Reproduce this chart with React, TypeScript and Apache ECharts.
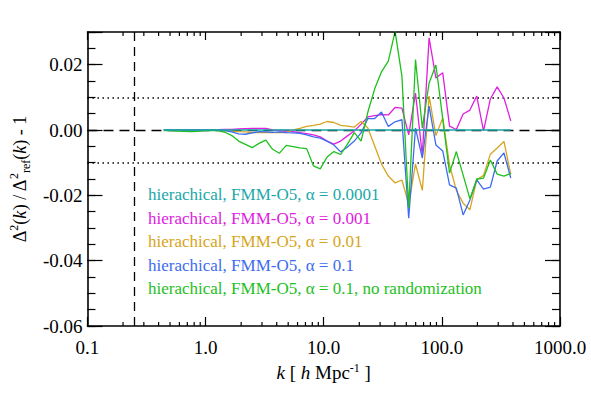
import React, { useEffect, useRef } from "react";
import * as echarts from "echarts";

const SERIF = "'Liberation Serif', 'Times New Roman', serif";

// wavenumbers k [h/Mpc]
const kValues = [
  0.4426, 0.5053, 0.577, 0.6588, 0.7522, 0.8588, 0.9806, 1.12, 1.279, 1.46,
  1.667, 1.903, 2.173, 2.481, 2.833, 3.235, 3.693, 4.217, 4.815, 5.498,
  6.278, 7.168, 8.185, 9.345, 10.67, 12.18, 13.91, 15.88, 18.14, 20.71,
  23.64, 27.0, 30.83, 35.2, 40.19, 45.89, 52.39, 59.82, 68.31, 77.99,
  89.05, 101.7, 116.1, 132.6, 151.4, 172.8, 197.3, 225.3, 257.3, 293.8,
  335.4, 382.9,
];

const alpha00001 = [
  0, 0, 0, 0, 0, 0, 0, 0, 0, 0,
  0, 0, 0, 0, 0, 0, 0, 0, 0, 0,
  0, 0, 0, 0, 0, 0, 0, 0, 0, 0,
  0, 0, 0, 0, 0, 0, 0, 0, 0, 0,
  0, 0, 0, 0, 0, 0, 0, 0, 0, 0,
  0, 0,
];

const alpha0001 = [
  0, 0, 0, 0, 0, 0, 0, 0, 0.0001, 0.00015,
  0.0002, 0.0003, 0.0004, 0.0005, 0.0005, 0.0005, 0.0, -0.00015, -0.0003, -0.0005,
  -0.0008, -0.0011, -0.0015, -0.0021, -0.0034, -0.0043, -0.0034, -0.0018, -0.0003, 0.0018,
  0.004, 0.0044, 0.0047, 0.0046, 0.0069, 0.0067, -0.0015, 0.0113, -0.0077, 0.0282,
  0.0159, 0.0175, 0.0012, 0.00015, 0.0049, 0.0061, 0.0104, -0.0003, 0.0095, 0.0132,
  0.0098, 0.0028,
];

const alpha001 = [
  0, 0, 0, 0, 0, 0, 0, 0, -0.0001, -0.00015,
  -0.0003, -0.0005, -0.0006, -0.0008, -0.0008, -0.0008, -0.0008, -0.0008, -0.0008, 0.0,
  0.0005, 0.0011, 0.0014, 0.0018, 0.0026, 0.0023, 0.0014, 0.0012, 0.0009, 0.0026,
  0.0006, -0.0049, -0.0104, -0.0141, -0.0162, -0.0153, -0.0227, -0.0104, -0.0185, 0.0104,
  -0.0017, 0.0037, -0.0107, -0.0185, -0.0224, -0.0244, -0.0153, -0.0139, -0.0074, -0.0055,
  -0.0035, -0.0136,
];

const alpha01 = [
  0, 0, 0, 0, 0, 0, 0, 0, 0, -0.00015,
  -0.0006, -0.0012, -0.0013, -0.0009, -0.0005, -0.0006, -0.0007, -0.0006, -0.0008, -0.0009,
  -0.001, -0.0015, -0.0021, -0.0025, -0.0034, -0.0046, -0.0067, -0.0052, -0.0034, -0.0009,
  0.0035, 0.0035, 0.0055, 0.0011, 0.0025, 0.0032, -0.027, 0.0006, -0.0086, 0.0073,
  -0.0046, -0.0064, -0.0168, -0.0178, -0.026, -0.0214, -0.0153, -0.0181, -0.0175, -0.0095,
  -0.007, -0.0147,
];

const alpha01NoRand = [
  -0.00015, -0.0002, -0.0003, -0.0004, -0.0005, -0.0004, -0.0002, -0.0001, -0.0002, -0.0007,
  -0.0017, -0.0034, -0.0044, -0.0054, -0.0041, -0.0031, -0.0059, -0.0071, -0.0047, -0.0051,
  -0.0055, -0.0057, -0.011, -0.0119, -0.0083, -0.0066, -0.0075, -0.0043, -0.0008, -0.0034,
  0.0055, 0.0126, 0.0178, 0.0211, 0.0302, 0.0165, -0.0239, 0.0216, 0.0006, 0.0144,
  0.0199, 0.0034, -0.0132, -0.0066, -0.0138, -0.0211, -0.015, -0.0147, -0.0092, -0.0135,
  -0.0141, -0.0133,
];

const seriesNames = [
  "hierachical, FMM-O5, \u03b1 = 0.0001",
  "hierachical, FMM-O5, \u03b1 = 0.001",
  "hierachical, FMM-O5, \u03b1 = 0.01",
  "hierachical, FMM-O5, \u03b1 = 0.1",
  "hierachical, FMM-O5, \u03b1 = 0.1, no randomization",
];
const seriesValues = [alpha00001, alpha0001, alpha001, alpha01, alpha01NoRand];
const seriesColors = ["#1aa8a8", "#e020e0", "#d6a520", "#3d6cf2", "#1ec01e"];

const xTickLabels = ["0.1", "1.0", "10.0", "100.0", "1000.0"];
const refK = 0.25;
const toleranceLevels = [0.01, -0.01];

export default function App() {
  const ref = useRef<HTMLDivElement>(null);

  useEffect(() => {
    if (!ref.current) return;
    const chart = echarts.init(ref.current, null, { renderer: "svg" });

    const minorK: number[] = [];
    for (let e = -1; e <= 2; e++) {
      for (let m = 2; m <= 9; m++) minorK.push(m * Math.pow(10, e));
    }

    const axisLineStyle = { color: "#000", width: 1.6 };
    const tickStyle = { color: "#000", width: 1.2 };

    const dataSeries = seriesValues.map((vals, si) => ({
      type: "line",
      name: seriesNames[si],
      data: kValues.map((k, i) => [k, vals[i]]),
      showSymbol: false,
      symbol: "none",
      lineStyle: { color: seriesColors[si], width: 1.3 },
      itemStyle: { color: seriesColors[si] },
      z: si === 0 ? 4 : 3,
      xAxisIndex: 0,
      yAxisIndex: 0,
    }));

    const option: any = {
      animation: false,
      backgroundColor: "#ffffff",
      textStyle: { fontFamily: SERIF },
      grid: { left: 83, right: 31, top: 32, bottom: 67 },
      xAxis: [
        {
          type: "log",
          logBase: 10,
          min: 0.1,
          max: 1000,
          position: "bottom",
          axisLine: { show: true, onZero: false, lineStyle: axisLineStyle },
          axisTick: { show: true, inside: true, length: 9, lineStyle: tickStyle },
          axisLabel: {
            color: "#000",
            fontSize: 19,
            fontFamily: SERIF,
            margin: 12,
            formatter: (v: number) => {
              const idx = Math.round(Math.log10(v)) + 1;
              return xTickLabels[idx] ?? v.toFixed(1);
            },
          },
          splitLine: { show: false },
          name: "{i|k}{t| [ }{i|h}{t| Mpc}{s|-1}{t| ]}",
          nameLocation: "middle",
          nameGap: 29,
          nameTextStyle: {
            color: "#000",
            fontSize: 19,
            fontFamily: SERIF,
            rich: {
              t: { fontSize: 19, fontFamily: SERIF, color: "#000", verticalAlign: "bottom" },
              i: { fontSize: 19, fontFamily: SERIF, fontStyle: "italic", color: "#000", verticalAlign: "bottom" },
              s: { fontSize: 12, fontFamily: SERIF, color: "#000", verticalAlign: "bottom", padding: [0, 0, 8, 0] },
            },
          },
        },
        {
          type: "log",
          logBase: 10,
          min: 0.1,
          max: 1000,
          position: "top",
          axisLine: { show: true, onZero: false, lineStyle: axisLineStyle },
          axisTick: { show: true, inside: true, length: 8, lineStyle: tickStyle },
          axisLabel: { show: false },
          splitLine: { show: false },
        },
      ],
      yAxis: [
        {
          type: "value",
          min: -0.06,
          max: 0.03,
          interval: 0.02,
          position: "left",
          axisLine: { show: true, onZero: false, lineStyle: axisLineStyle },
          axisTick: { show: true, inside: true, length: 15, lineStyle: tickStyle },
          axisLabel: {
            color: "#000",
            fontSize: 19,
            fontFamily: SERIF,
            margin: 5,
            formatter: (v: number) => (v > 0.025 ? "" : Math.abs(v) < 1e-9 ? "0.00" : v.toFixed(2)),
          },
          splitLine: { show: false },
          name:
            "{t|\u0394}{s|2}{t|(}{i|k}{t|) / \u0394}{s|2}{r|ref}{t|(}{i|k}{t|) - 1}",
          nameLocation: "middle",
          nameGap: 55,
          nameTextStyle: {
            color: "#000",
            fontSize: 18,
            fontFamily: SERIF,
            rich: {
              t: { fontSize: 18, fontFamily: SERIF, color: "#000", verticalAlign: "bottom", padding: [0, 0, 3, 0] },
              i: { fontSize: 18, fontFamily: SERIF, fontStyle: "italic", color: "#000", verticalAlign: "bottom", padding: [0, 0, 3, 0] },
              s: { fontSize: 12, fontFamily: SERIF, color: "#000", verticalAlign: "bottom", padding: [0, 0, 12, 0] },
              r: { fontSize: 12, fontFamily: SERIF, color: "#000", verticalAlign: "bottom", padding: [0, 0, 0, 0] },
            },
          },
        },
        {
          type: "value",
          min: -0.06,
          max: 0.03,
          interval: 0.02,
          position: "right",
          axisLine: { show: true, onZero: false, lineStyle: axisLineStyle },
          axisTick: { show: true, inside: true, length: 15, lineStyle: tickStyle },
          axisLabel: { show: false },
          splitLine: { show: false },
        },
        {
          type: "value",
          min: -0.06,
          max: 0.03,
          interval: 0.005,
          position: "left",
          axisLine: { show: false },
          axisTick: { show: true, inside: true, length: 8, lineStyle: tickStyle },
          axisLabel: { show: false },
          splitLine: { show: false },
        },
        {
          type: "value",
          min: -0.06,
          max: 0.03,
          interval: 0.005,
          position: "right",
          axisLine: { show: false },
          axisTick: { show: true, inside: true, length: 8, lineStyle: tickStyle },
          axisLabel: { show: false },
          splitLine: { show: false },
        },
      ],
      graphic: seriesNames.map((name, i) => ({
        type: "text",
        x: 148,
        y: 194.5 + 23.5 * i,
        silent: true,
        style: {
          text: name,
          fill: seriesColors[i],
          fontSize: 17,
          fontFamily: SERIF,
          align: "left",
          verticalAlign: "middle",
        },
      })),
      series: [
        {
          type: "line",
          data: [],
          xAxisIndex: 0,
          yAxisIndex: 0,
          silent: true,
          z: 1,
          markLine: {
            silent: true,
            z: 1,
            symbol: ["none", "none"],
            label: { show: false },
            animation: false,
            data: [
              { yAxis: 0, lineStyle: { color: "#000", width: 1.3, type: [10, 6] } },
              ...toleranceLevels.map((v) => ({
                yAxis: v,
                lineStyle: { color: "#000", width: 1.5, type: [1.5, 3.5] },
              })),
              { xAxis: refK, lineStyle: { color: "#000", width: 1.3, type: [9, 6] } },
            ],
          },
        },
        {
          type: "custom",
          xAxisIndex: 0,
          yAxisIndex: 0,
          silent: true,
          clip: false,
          z: 5,
          data: minorK.map((k) => [k, 0]),
          renderItem: (params: any, api: any) => {
            const x = api.coord([api.value(0), 0])[0];
            const cs = params.coordSys;
            return {
              type: "group",
              children: [
                {
                  type: "line",
                  shape: { x1: x, y1: cs.y + cs.height, x2: x, y2: cs.y + cs.height - 4 },
                  style: { stroke: "#000", lineWidth: 1.2 },
                },
                {
                  type: "line",
                  shape: { x1: x, y1: cs.y, x2: x, y2: cs.y + 4 },
                  style: { stroke: "#000", lineWidth: 1.2 },
                },
              ],
            };
          },
        },
        ...dataSeries,
      ],
    };

    chart.setOption(option);
    return () => chart.dispose();
  }, []);

  return (
    <div
      ref={ref}
      style={{ position: "fixed", left: 0, top: 0, width: 591, height: 393, background: "#fff" }}
    />
  );
}
